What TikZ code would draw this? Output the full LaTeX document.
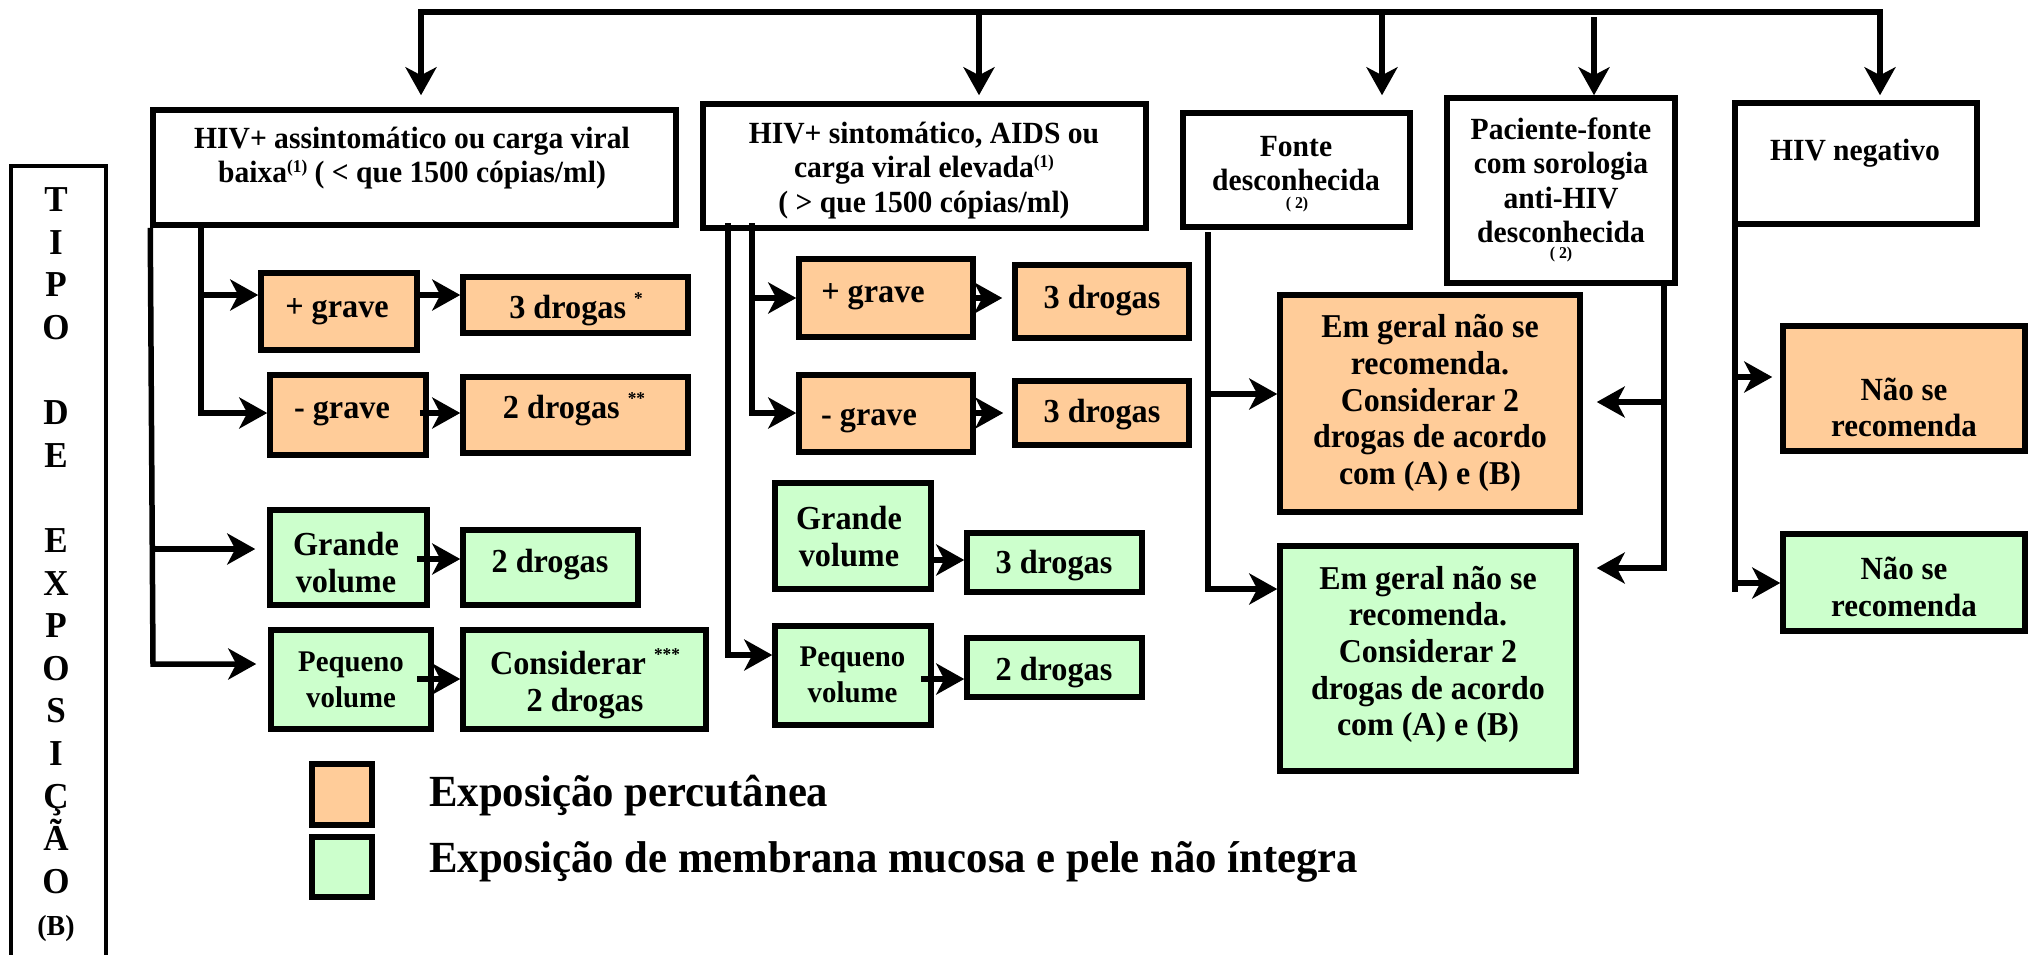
\documentclass[tikz,border=0pt]{standalone}
\usepackage{fontspec}
\setmainfont{Liberation Serif}[FakeStretch=0.96]
\usetikzlibrary{arrows.meta}
\definecolor{orng}{RGB}{255,204,153}
\definecolor{grn}{RGB}{204,255,204}
\newcommand\supx[2]{\raisebox{#1}{\fontsize{18}{18}\selectfont #2}}
\newcommand\bx[6]{\node[#2, minimum width={(#5)-(#3)}, minimum height={(#6)-(#4)}] (#1) at ({((#3)+(#5))/2},{((#4)+(#6))/2}) {};}
\begin{document}
\begin{tikzpicture}[x=1pt,y=-1pt,
  box/.style={draw, line width=5.5pt, rectangle, inner sep=0pt},
  wbox/.style={box, fill=white},
  obox/.style={box, fill=orng},
  gbox/.style={box, fill=grn},
  conn/.style={line width=5.5pt},
  arr/.style={line width=5.5pt, -{Stealth[length=28pt,width=31pt,inset=8pt]}},
  hdr/.style={inner sep=0pt, align=center, font=\fontsize{30.8}{34.5}\selectfont\bfseries},
  hdr1/.style={hdr, text height=21pt, text depth=6.8pt},
  txt/.style={inner sep=0pt, align=center, font=\fontsize{33.6}{37}\selectfont\bfseries},
  txt1/.style={txt, text height=23pt, text depth=7.4pt},
  txtp/.style={txt, font=\fontsize{30}{36.5}\selectfont\bfseries},
  txtem/.style={txt, font=\fontsize{33.3}{36.6}\selectfont\bfseries},
  txtn/.style={txt, font=\fontsize{32.3}{36.5}\selectfont\bfseries},
  smalltxt/.style={inner sep=0pt, font=\fontsize{16.5}{18}\selectfont\bfseries},
  legtxt/.style={anchor=base west, inner sep=0pt, font=\fontsize{44.5}{44.5}\selectfont\bfseries},
]
\useasboundingbox (0,0) rectangle (2028,954);

% ---- side label ----
\node[draw, line width=3.5pt, minimum width=95, minimum height=820, anchor=north west, inner sep=0pt] (tipo) at (9,164) {};
\node[anchor=north, inner sep=0pt, align=center, font=\fontsize{36.5}{42.6}\selectfont\bfseries] (tipotxt) at (56,187.5)
  {T\\I\\P\\O\\[42.6pt]D\\E\\[42.6pt]E\\X\\P\\O\\S\\I\\Ç\\Ã\\O\\{\fontsize{29}{42.6}\selectfont (B)}};

% ---- header boxes ----
\bx{hA}{wbox}{153}{110}{676}{225}
\bx{hB}{wbox}{703}{104}{1146}{228}
\bx{hC}{wbox}{1183}{113}{1410}{227}
\bx{hD}{wbox}{1447}{98}{1675}{283}
\bx{hE}{wbox}{1735}{103}{1977}{224}
\node[hdr] (tA) at (412,158) {HIV+ assintomático ou carga viral\\baixa\supx{10pt}{(1)} ( < que 1500 cópias/ml)};
\node[hdr] (tB) at (924,170.5) {HIV+ sintomático, AIDS ou\\carga viral elevada\supx{10pt}{(1)}\\( > que 1500 cópias/ml)};
\node[hdr] (tC) at (1296,163.5) {Fonte\\desconhecida};
\node[smalltxt] (tC2) at (1297,205) {( 2)};
\node[hdr] (tD) at (1561,180.5) {Paciente-fonte\\com sorologia\\anti-HIV\\desconhecida};
\node[smalltxt] (tD2) at (1561,255) {( 2)};
\node[hdr1] (tE) at (1855,153) {HIV negativo};

% ---- top bus ----
\coordinate (bL) at (421,12);
\coordinate (b2) at (979,12);
\coordinate (b3) at (1382,12);
\coordinate (b4) at (1594,17);
\coordinate (bR) at (1880,12);
\draw[conn, line cap=rect] (bL) -- (bR);
\draw[arr, shorten >=12pt] (bL) -- (bL |- hA.north);
\draw[arr, shorten >=6pt] (b2) -- (b2 |- hB.north);
\draw[arr, shorten >=15pt] (b3) -- (b3 |- hC.north);
\draw[arr] (b4) -- (b4 |- hD.north);
\draw[arr, shorten >=5pt] (bR) -- (bR |- hE.north);

% ---- column A ----
\bx{pgA}{obox}{261}{273}{417}{350}
\bx{dA1}{obox}{463}{277}{688}{333}
\bx{mgA}{obox}{270}{375}{426}{455}
\bx{dA2}{obox}{463}{377}{688}{453}
\bx{gvA}{gbox}{270}{510}{427}{605}
\bx{dA3}{gbox}{463}{530}{638}{605}
\bx{pvA}{gbox}{271}{630}{431}{729}
\bx{dA4}{gbox}{463}{630}{706}{729}
\node[txt1] (tpgA) at (337,310) {+ grave};
\node[txt1] (tdA1) at (576,311) {3 drogas \supx{14pt}{*}};
\node[txt1] (tmgA) at (342,411) {- grave};
\node[txt1] (tdA2) at (574,411) {2 drogas \supx{14pt}{**}};
\node[txt] (tgvA) at (346,563) {Grande\\volume};
\node[txt1] (tdA3) at (550,565) {2 drogas};
\node[txtp] (tpvA) at (351,680) {Pequeno\\volume};
\node[txt] (tdA4) at (585,684) {Considerar \supx{14pt}{***}\\2 drogas};

\coordinate (oA) at (153,664);
\coordinate (oAg) at (153,549);
\coordinate (iAt) at (201,225);
\coordinate (iA1) at (201,295);
\coordinate (iA2) at (201,413);
\coordinate (gA3) at (417,559);
\coordinate (gA4) at (417,679);
\draw[arr, shorten >=12pt] (hA.south west) -- (oA) -- (oA -| pvA.west);
\draw[arr, shorten >=12pt] (oAg) -- (oAg -| gvA.west);
\draw[arr] (iAt) -- (iA2) -- (iA2 -| mgA.west);
\draw[arr] (iA1) -- (iA1 -| pgA.west);
\draw[arr] (pgA.east |- iA1) -- (iA1 -| dA1.west);
\draw[arr] ([xshift=-9]mgA.east |- iA2) -- (iA2 -| dA2.west);
\draw[arr] (gA3) -- (gA3 -| dA3.west);
\draw[arr] (gA4) -- (gA4 -| dA4.west);

% ---- column B ----
\bx{pgB}{obox}{799}{259}{973}{337}
\bx{dB1}{obox}{1015}{265}{1189}{338}
\bx{mgB}{obox}{799}{375}{973}{452}
\bx{dB2}{obox}{1015}{381}{1189}{445}
\bx{gvB}{gbox}{775}{483}{931}{589}
\bx{dB3}{gbox}{967}{533}{1142}{592}
\bx{pvB}{gbox}{775}{626}{931}{725}
\bx{dB4}{gbox}{967}{638}{1142}{697}
\node[txt1] (tpgB) at (873,295) {+ grave};
\node[txt1] (tdB1) at (1102,301) {3 drogas};
\node[txt1] (tmgB) at (869,418) {- grave};
\node[txt1] (tdB2) at (1102,415) {3 drogas};
\node[txt] (tgvB) at (849,537) {Grande\\volume};
\node[txt1] (tdB3) at (1054,566) {3 drogas};
\node[txtp] (tpvB) at (852.5,675) {Pequeno\\volume};
\node[txt1] (tdB4) at (1054,673) {2 drogas};

\coordinate (oBt) at (728,223);
\coordinate (oB) at (728,655);
\coordinate (iBt) at (752,223);
\coordinate (iB1) at (752,298);
\coordinate (iB2) at (752,413);
\coordinate (gB3) at (931,560);
\coordinate (gB4) at (921,679);
\draw[arr] (oBt) -- (oB) -- (oB -| pvB.west);
\draw[arr] (iBt) -- (iB2) -- (iB2 -| mgB.west);
\draw[arr] (iB1) -- (iB1 -| pgB.west);
\draw[arr, shorten >=10pt] ([xshift=-4]pgB.east |- iB1) -- (iB1 -| dB1.west);
\draw[arr, shorten >=9pt] ([xshift=-4]mgB.east |- iB2) -- (iB2 -| dB2.west);
\draw[arr] (gB3) -- (gB3 -| dB3.west);
\draw[arr] (gB4) -- (gB4 -| dB4.west);

% ---- column C / D ----
\bx{emO}{obox}{1280}{295}{1580}{512}
\bx{emG}{gbox}{1280}{546}{1576}{771}
\node[txtem] (temO) at (1430,403) {Em geral não se\\recomenda.\\Considerar 2\\drogas de acordo\\com (A) e (B)};
\node[txtem] (temG) at (1428,654.5) {Em geral não se\\recomenda.\\Considerar 2\\drogas de acordo\\com (A) e (B)};

\coordinate (fT) at (1208,232);
\coordinate (f1) at (1208,394);
\coordinate (f2) at (1208,589);
\draw[arr] (fT) -- (f2) -- (f2 -| emG.west);
\draw[arr] (f1) -- (f1 -| emO.west);

\coordinate (pT) at (1664,283);
\coordinate (p1) at (1664,402);
\coordinate (p2) at (1664,568);
\draw[arr, shorten >=18pt] (pT) -- (p2) -- (p2 -| emG.east);
\draw[arr, shorten >=14pt] (p1) -- (p1 -| emO.east);

% ---- column E ----
\bx{nO}{obox}{1783}{326}{2025}{451}
\bx{nG}{gbox}{1783}{534}{2025}{631}
\node[txtn] (tnO) at (1904,407.5) {Não se\\recomenda};
\node[txtn] (tnG) at (1904,587) {Não se\\recomenda};
\coordinate (nT) at (1735,224);
\coordinate (nB) at (1735,592);
\coordinate (n1) at (1735,377);
\coordinate (n2) at (1735,583);
\draw[conn] (nT) -- (nB);
\draw[arr, shorten >=8pt] (n1) -- (n1 -| nO.west);
\draw[arr] (n2) -- (n2 -| nG.west);

% ---- legend ----
\bx{lgO}{obox}{312}{764}{372}{825}
\bx{lgG}{gbox}{312}{837}{372}{897}
\node[legtxt] (lt1) at (429,806) {Exposição percutânea};
\node[legtxt] (lt2) at (429,872) {Exposição de membrana mucosa e pele não íntegra};
\end{tikzpicture}
\end{document}
